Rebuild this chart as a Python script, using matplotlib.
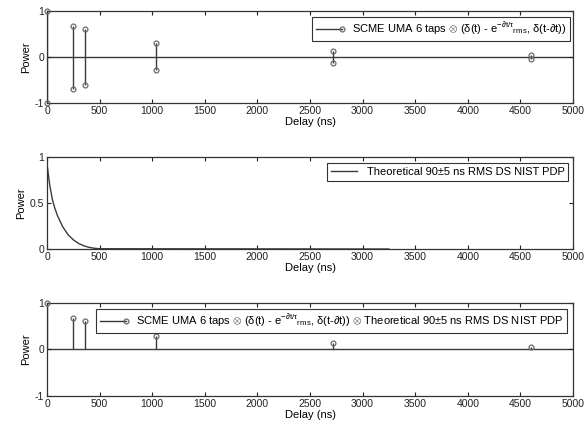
import numpy as np
import matplotlib
matplotlib.use("Agg")
import matplotlib.pyplot as plt
from matplotlib.lines import Line2D
from matplotlib.legend_handler import HandlerBase
from matplotlib.ticker import FormatStrFormatter

plt.rcParams['font.family'] = ['Liberation Sans', 'DejaVu Sans']
plt.rcParams['mathtext.fontset'] = 'custom'
plt.rcParams['mathtext.rm'] = 'Liberation Sans'
plt.rcParams['mathtext.it'] = 'Liberation Sans'
plt.rcParams['axes.unicode_minus'] = False

# tap delays (ns) and powers
tap_delay = [0, 250, 357, 1035, 2720, 4600]
tap_pos = [1.0, 0.68, 0.61, 0.30, 0.12, 0.05]
tap_neg = [-1.0, -0.69, -0.61, -0.29, -0.13, -0.04]
tap_conv = [1.0, 0.68, 0.61, 0.30, 0.13, 0.05]

# theoretical PDP, sampled from the curve
pdp_delay = [0, 25, 50, 75, 100, 150, 200, 250, 300, 350, 400, 450, 500, 3250]
pdp_power = [0.92, 0.70, 0.54, 0.44, 0.36, 0.24, 0.155, 0.10, 0.06, 0.035, 0.018, 0.008, 0.003, 0.0]

label_top = (r'SCME UMA 6 taps $\otimes$ ($\delta$(t) - e$^{-\partial t/\tau}{}_{\rm rms}$, '
             r'$\delta$(t-$\partial$t))')
label_mid = 'Theoretical 90\u00b15 ns RMS DS NIST PDP'
label_bot = label_top + r' $\otimes$ ' + label_mid

line_col = '#3a3a3a'
mark_col = '#6a6a6a'
fs = 8


class StemHandler(HandlerBase):
    # MATLAB-like stem legend: horizontal line with a marker at its right end
    def create_artists(self, legend, orig_handle, xdescent, ydescent,
                       width, height, fontsize, trans):
        y = height / 2 - ydescent
        line = Line2D([-xdescent, width - xdescent], [y, y], color=line_col,
                      linewidth=1.0, transform=trans)
        mark = Line2D([width - xdescent], [y], linestyle='none', marker='o',
                      markersize=3.5, markerfacecolor='none',
                      markeredgecolor=mark_col, markeredgewidth=0.9, transform=trans)
        return [line, mark]


fig = plt.figure(figsize=(5.88, 4.30), dpi=100)
ax_top = fig.add_axes([0.080, 0.7605, 0.8945, 0.214])
ax_mid = fig.add_axes([0.080, 0.4209, 0.8945, 0.214])
ax_bot = fig.add_axes([0.080, 0.0791, 0.8945, 0.2163])


def stems(ax, x, y):
    ax.vlines(x, 0, y, color=line_col, linewidth=1.0, zorder=2)
    ax.plot(x, y, linestyle='none', marker='o', markersize=3.5,
            markerfacecolor='none', markeredgecolor=mark_col, markeredgewidth=0.9,
            zorder=3, clip_on=False)


def style(ax, yticks, ylim):
    ax.set_xlim(0, 5000)
    ax.set_ylim(*ylim)
    ax.set_xticks(np.arange(0, 5001, 500))
    ax.set_yticks(yticks)
    ax.yaxis.set_major_formatter(FormatStrFormatter('%g'))
    ax.tick_params(direction='in', top=True, right=True, length=3, width=0.8,
                   colors='#222222', labelsize=7.5, pad=2)
    for s in ax.spines.values():
        s.set_color('#333333')
        s.set_linewidth(0.9)
    ax.set_xlabel('Delay (ns)', fontsize=fs, labelpad=1)
    ax.set_ylabel('Power', fontsize=fs, labelpad=3)


def add_legend(ax, handle, label, anchor, stem=True):
    hmap = {handle: StemHandler()} if stem else None
    leg = ax.legend([handle], [label], loc='upper right', bbox_to_anchor=anchor,
                    borderaxespad=0, fancybox=False, framealpha=1,
                    handlelength=2.3, fontsize=fs, borderpad=0.35, handletextpad=0.9,
                    handler_map=hmap)
    leg.get_frame().set_edgecolor('#333333')
    leg.get_frame().set_linewidth(0.8)


# top: taps with positive and negative parts
ax_top.axhline(0, color=line_col, linewidth=1.0, zorder=1)
stems(ax_top, tap_delay + tap_delay, tap_pos + tap_neg)
style(ax_top, [-1, 0, 1], (-1, 1))
add_legend(ax_top, Line2D([], []), label_top, (0.994, 0.935))

# middle: theoretical PDP
ax_mid.plot(pdp_delay, pdp_power, color=line_col, linewidth=1.0)
style(ax_mid, [0, 0.5, 1], (0, 1))
add_legend(ax_mid, Line2D([], [], color=line_col, linewidth=1.0), label_mid,
           (0.991, 0.935), stem=False)

# bottom: convolved taps
ax_bot.axhline(0, color=line_col, linewidth=1.0, zorder=1)
stems(ax_bot, tap_delay, tap_conv)
style(ax_bot, [-1, 0, 1], (-1, 1))
add_legend(ax_bot, Line2D([], []), label_bot, (0.989, 0.935))

fig.savefig('out.png', dpi=100)
